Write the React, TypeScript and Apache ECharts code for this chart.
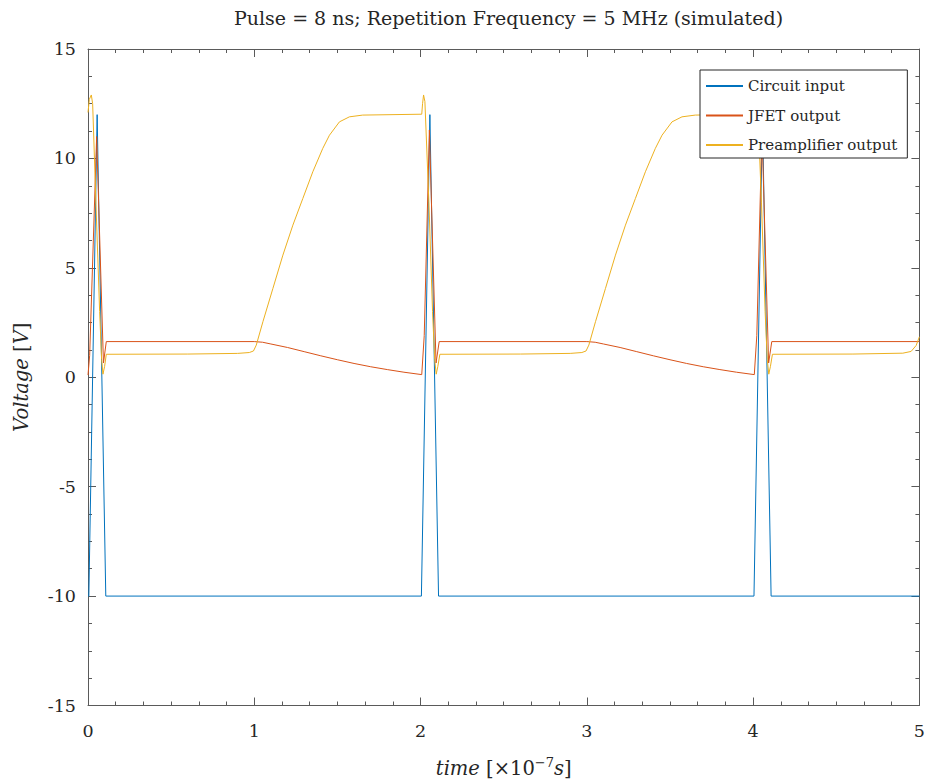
import React, { useEffect, useRef } from "react";
import * as echarts from "echarts";

// time in units of 1e-7 s, voltage in V
const circuitInput: [number, number][] = [
  [0, -10], [0.005, -10], [0.055, 12], [0.107, -10],
  [2.005, -10], [2.056, 12], [2.108, -10],
  [4.005, -10], [4.056, 12], [4.108, -10],
  [5, -10],
];

const jfetOutput: [number, number][] = [
  [0, 0.1], [0.01, 1.0], [0.052, 11.0], [0.093, 0.65], [0.11, 1.63],
  [1.0, 1.63], [1.05, 1.6], [1.1, 1.52], [1.2, 1.36], [1.3, 1.17], [1.4, 0.98],
  [1.5, 0.8], [1.6, 0.63], [1.7, 0.48], [1.8, 0.35], [1.9, 0.23], [2.007, 0.12],
  [2.022, 1.9], [2.053, 11.3], [2.093, 0.65], [2.112, 1.63],
  [3.0, 1.63], [3.05, 1.6], [3.1, 1.52], [3.2, 1.36], [3.3, 1.17], [3.4, 0.98],
  [3.5, 0.8], [3.6, 0.63], [3.7, 0.48], [3.8, 0.35], [3.9, 0.23], [4.007, 0.12],
  [4.022, 1.9], [4.053, 11.3], [4.093, 0.65], [4.112, 1.63],
  [5.0, 1.63],
];

const preampOutput: [number, number][] = [
  [0, 12.1], [0.008, 12.7], [0.02, 12.9], [0.028, 12.5], [0.048, 7.9], [0.07, 3.0],
  [0.082, 0.8], [0.09, 0.14], [0.1, 0.5], [0.11, 1.05],
  [0.6, 1.06], [0.9, 1.09], [0.97, 1.13], [0.995, 1.2],
  [1.012, 1.47], [1.052, 2.54], [1.112, 4.06], [1.172, 5.58], [1.232, 6.95],
  [1.292, 8.17], [1.352, 9.39], [1.412, 10.46], [1.452, 11.06], [1.512, 11.67],
  [1.572, 11.9], [1.652, 11.98], [2.007, 12.02],
  [2.012, 12.5], [2.018, 12.9], [2.026, 12.6], [2.05, 8.0], [2.072, 3.0],
  [2.085, 0.8], [2.094, 0.14], [2.104, 0.5], [2.116, 1.05],
  [2.6, 1.06], [2.9, 1.09], [2.97, 1.13], [2.995, 1.2],
  [3.012, 1.47], [3.052, 2.54], [3.112, 4.06], [3.172, 5.58], [3.232, 6.95],
  [3.292, 8.17], [3.352, 9.39], [3.412, 10.46], [3.452, 11.06], [3.512, 11.67],
  [3.572, 11.9], [3.652, 11.98], [4.007, 12.02],
  [4.012, 12.5], [4.018, 12.9], [4.026, 12.6], [4.05, 8.0], [4.072, 3.0],
  [4.085, 0.8], [4.094, 0.14], [4.104, 0.5], [4.116, 1.05],
  [4.6, 1.06], [4.9, 1.1], [4.95, 1.18], [4.98, 1.45], [5.0, 1.85],
];

const seriesNames = ["Circuit input", "JFET output", "Preamplifier output"];
const seriesColors = ["#0072BD", "#D95319", "#EDB120"];
const xTicks = [0, 1, 2, 3, 4, 5];
const yTicks = [-15, -10, -5, 0, 5, 10, 15];

const FONT = "DejaVu Serif";
const TEXT = "#262626";
const AXIS = "#5a5a5a";

export default function App() {
  const ref = useRef<HTMLDivElement>(null);
  useEffect(() => {
    if (!ref.current) return;
    document.body.style.margin = "0";
    document.documentElement.style.overflow = "hidden";
    const chart = echarts.init(ref.current, undefined, { renderer: "svg" });
    const axisCommon = {
      type: "value" as const,
      axisLine: { show: true, onZero: false, lineStyle: { color: AXIS, width: 1 } },
      axisTick: { show: true, inside: true, length: 8, lineStyle: { color: AXIS, width: 1 } },
      splitLine: { show: false },
    };
    const xMin = xTicks[0], xMax = xTicks[xTicks.length - 1];
    const yMin = yTicks[0], yMax = yTicks[yTicks.length - 1];
    chart.setOption({
      animation: false,
      backgroundColor: "#ffffff",
      title: {
        text: "Pulse = 8 ns; Repetition Frequency = 5 MHz (simulated)",
        left: 229,
        top: 3,
        textStyle: { fontFamily: FONT, fontSize: 19, fontWeight: "normal", color: TEXT },
      },
      grid: { left: 88, right: 7, top: 49, bottom: 68, containLabel: false },
      legend: {
        orient: "vertical",
        left: 700,
        top: 70,
        padding: [8, 10, 5, 6],
        itemGap: 13.5,
        itemWidth: 37,
        itemHeight: 2,
        icon: "rect",
        backgroundColor: "#ffffff",
        borderColor: "#262626",
        borderWidth: 1,
        borderRadius: 0,
        textStyle: { fontFamily: FONT, fontSize: 15, lineHeight: 16, color: TEXT },
        data: seriesNames,
      },
      xAxis: [
        {
          ...axisCommon,
          position: "bottom",
          min: xMin,
          max: xMax,
          interval: 1,
          minorTick: { show: true, splitNumber: 6, length: 4, lineStyle: { color: AXIS } },
          axisLabel: { fontFamily: FONT, fontSize: 17.5, color: TEXT, margin: 16 },
          name: "{i|time} [×10{sup|−7}{i|s}]",
          nameLocation: "middle",
          nameGap: 50,
          nameTextStyle: {
            fontFamily: FONT,
            fontSize: 19.5,
            color: TEXT,
            rich: {
              i: { fontFamily: FONT, fontSize: 19.5, fontStyle: "italic", color: TEXT },
              sup: { fontFamily: FONT, fontSize: 13, color: TEXT, padding: [0, 0, 12, 0] },
            },
          },
        },
        {
          ...axisCommon,
          position: "top",
          min: xMin,
          max: xMax,
          interval: 1,
          minorTick: { show: true, splitNumber: 6, length: 4, lineStyle: { color: AXIS } },
          axisLabel: { show: false },
        },
      ],
      yAxis: [
        {
          ...axisCommon,
          position: "left",
          min: yMin,
          max: yMax,
          interval: 5,
          minorTick: { show: true, splitNumber: 4, length: 4, lineStyle: { color: AXIS } },
          axisLabel: { fontFamily: FONT, fontSize: 17.5, color: TEXT, margin: 12 },
          name: "{i|Voltage} [{i|V}]",
          nameLocation: "middle",
          nameGap: 57,
          nameRotate: 90,
          nameTextStyle: {
            fontFamily: FONT,
            fontSize: 19.5,
            color: TEXT,
            rich: {
              i: { fontFamily: FONT, fontSize: 19.5, fontStyle: "italic", color: TEXT },
            },
          },
        },
        {
          ...axisCommon,
          position: "right",
          min: yMin,
          max: yMax,
          interval: 5,
          minorTick: { show: true, splitNumber: 4, length: 4, lineStyle: { color: AXIS } },
          axisLabel: { show: false },
        },
      ],
      series: [circuitInput, jfetOutput, preampOutput].map((d, i) => ({
        name: seriesNames[i],
        type: "line",
        data: d,
        xAxisIndex: 0,
        yAxisIndex: 0,
        symbol: "none",
        showSymbol: false,
        smooth: false,
        clip: true,
        color: seriesColors[i],
        itemStyle: { color: seriesColors[i] },
        lineStyle: { color: seriesColors[i], width: 1 },
        emphasis: { disabled: true },
      })),
    });
    return () => chart.dispose();
  }, []);
  return <div ref={ref} style={{ width: 928, height: 783, position: "absolute", left: 0, top: 0 }} />;
}
